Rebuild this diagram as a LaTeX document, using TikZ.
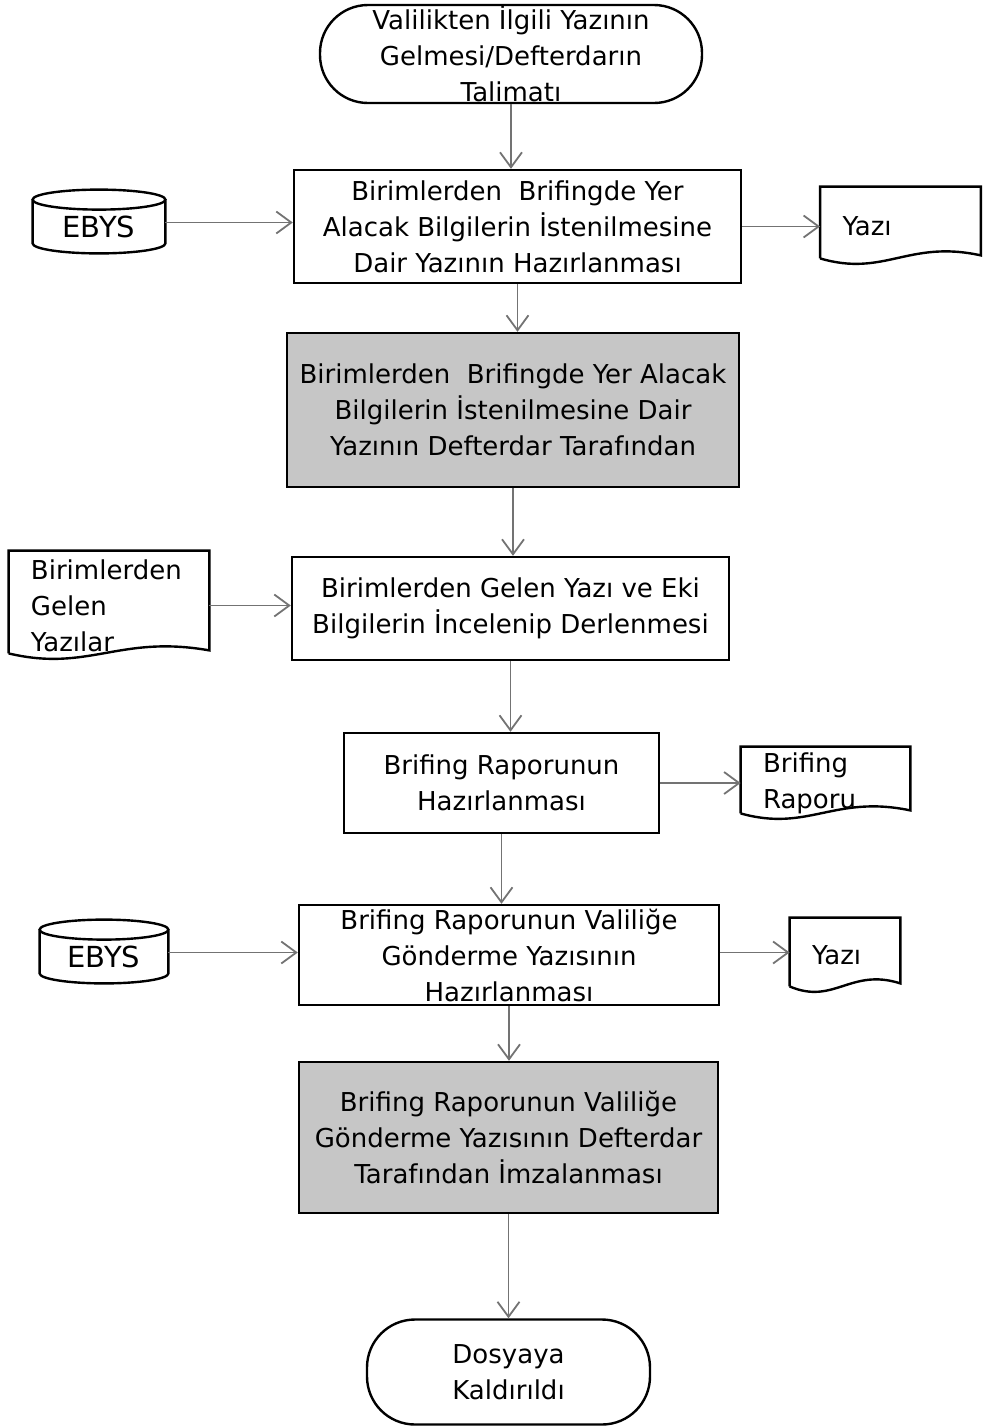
\documentclass[tikz,border=0pt]{standalone}
\usepackage{fontspec}
\setmainfont{DejaVu Sans}
\usetikzlibrary{shapes.geometric,arrows.meta,calc}

\tikzset{
  flow/.style={draw, line width=1.2pt, inner sep=0pt, align=center,
    font=\fontsize{13}{18}\selectfont},
  procbox/.style={flow, rectangle},
  signbox/.style={procbox, fill=gray!45},
  termbox/.style={flow, rectangle, rounded corners=24pt},
  dbbox/.style={rectangle, inner sep=0pt, font=\fontsize{14.5}{18}\selectfont},
  docbox/.style={rectangle, inner ysep=0pt, inner xsep=11pt, align=left,
    text width=#1, font=\fontsize{13}{18}\selectfont},
  conn/.style={draw=black!55, line width=0.9pt,
    -{Straight Barb[length=7.5pt,width=11pt,line width=0.9pt]}}
}

% wavy bottom of a document node
\newcommand{\docoutline}[1]{%
  \draw[line width=1.2pt] ([yshift=3.5pt]#1.south west) -- (#1.north west)
    -- (#1.north east) -- ([yshift=5pt]#1.south east)
    .. controls ($(#1.south west)!0.55!(#1.south east)+(0,13pt)$)
    and ($(#1.south west)!0.4!(#1.south east)+(0,-6pt)$)
    .. ([yshift=3.5pt]#1.south west);}
% drum outline round a database node
\newcommand{\dboutline}[1]{%
  \draw[line width=1.2pt] let \p1=($(#1.east)-(#1.west)$) in
    (#1.north) ellipse [x radius=0.5*\x1, y radius=5pt]
    (#1.north west) -- ([yshift=5pt]#1.south west)
    arc[start angle=180, end angle=360, x radius=0.5*\x1, y radius=5pt]
    -- (#1.north east);}

\begin{document}
\begin{tikzpicture}[x=0.5pt,y=-0.5pt]
  \useasboundingbox (0,0) rectangle (982,1426);

  % main column
  \node[termbox, minimum width=191pt, minimum height=49pt] (start) at (511,54)
    {Valilikten İlgili Yazının\\Gelmesi/Defterdarın\\Talimatı};
  \node[procbox, minimum width=223.5pt, minimum height=56.5pt] (b1) at (517.5,226.5)
    {Birimlerden~~Brifingde Yer\\Alacak Bilgilerin İstenilmesine\\Dair Yazının Hazırlanması};
  \node[signbox, minimum width=226pt, minimum height=77pt] (b2) at (513,410)
    {Birimlerden~~Brifingde Yer Alacak\\Bilgilerin İstenilmesine Dair\\Yazının Defterdar Tarafından};
  \node[procbox, minimum width=218.5pt, minimum height=51.5pt] (b3) at (510.5,608.5)
    {Birimlerden Gelen Yazı ve Eki\\Bilgilerin İncelenip Derlenmesi};
  \node[procbox, minimum width=157.5pt, minimum height=50pt] (b4) at (501.5,783)
    {Brifing Raporunun\\Hazırlanması};
  \node[procbox, minimum width=210pt, minimum height=50pt] (b5) at (509,955)
    {Brifing Raporunun Valiliğe\\Gönderme Yazısının\\Hazırlanması};
  \node[signbox, minimum width=209.5pt, minimum height=75.5pt] (b6) at (508.5,1137.5)
    {Brifing Raporunun Valiliğe\\Gönderme Yazısının Defterdar\\Tarafından İmzalanması};
  \node[termbox, minimum width=141.5pt, minimum height=52.5pt] (end) at (508.5,1372)
    {Dosyaya\\Kaldırıldı};

  % side nodes
  \node[dbbox, minimum width=66pt, minimum height=26.5pt] (db1) at (99,226.5) {EBYS};
  \node[dbbox, minimum width=64pt, minimum height=26.5pt] (db2) at (104,956.5) {EBYS};
  \foreach \d in {db1,db2} {\dboutline{\d}}
  \node[docbox=58pt, minimum height=39pt] (doc1) at (900.5,226) {Yazı};
  \node[docbox=78pt, minimum height=54.5pt] (doc2) at (109,605.5)
    {Birimlerden\\Gelen\\Yazılar};
  \node[docbox=62.5pt, minimum height=36.5pt] (doc3) at (825.5,783.5)
    {Brifing\\Raporu};
  \node[docbox=33pt, minimum height=37.5pt] (doc4) at (845,955.5) {Yazı};
  \foreach \d in {doc1,doc2,doc3,doc4} {\docoutline{\d}}

  % connectors
  \draw[conn] (start.south) -- (start.south |- b1.north);
  \draw[conn] (b1.south) -- (b1.south |- b2.north);
  \draw[conn] (b2.south) -- (b2.south |- b3.north);
  \draw[conn] (b3.south) -- (b3.south |- b4.north);
  \draw[conn] (b4.south) -- (b4.south |- b5.north);
  \draw[conn] (b5.south) -- (b5.south |- b6.north);
  \draw[conn] (b6.south) -- (b6.south |- end.north);
  \draw[conn] ([yshift=2pt]db1.east) -- ([yshift=2pt]db1.east -| b1.west);
  \draw[conn] (b1) -- (b1 -| doc1.west);
  \draw[conn] (doc2) -- (doc2 -| b3.west);
  \draw[conn] (b4) -- (b4 -| doc3.west);
  \draw[conn] ([yshift=2pt]db2.east) -- ([yshift=2pt]db2.east -| b5.west);
  \draw[conn] ([yshift=2pt]b5.east |- db2) -- ([yshift=2pt]doc4.west |- db2);
\end{tikzpicture}
\end{document}
